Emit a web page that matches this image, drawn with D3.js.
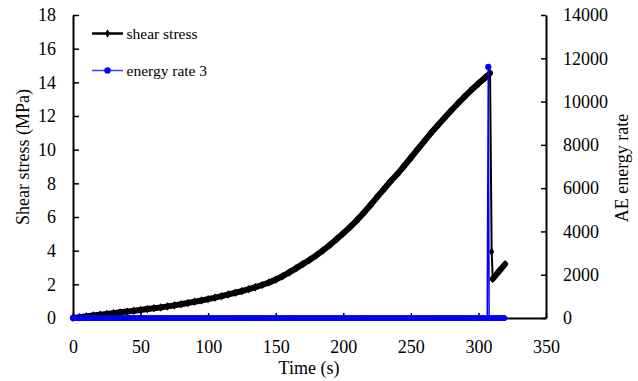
<!DOCTYPE html>
<html>
<head>
<meta charset="utf-8">
<script src="https://cdn.jsdelivr.net/npm/d3@7"></script>
<style>
  html, body { margin: 0; padding: 0; background: #fff; }
  svg { display: block; font-family: "Liberation Serif", "Times New Roman", serif; }
  svg text { font-family: "Liberation Serif", "Times New Roman", serif; }
</style>
</head>
<body>
<svg id="chart" width="638" height="381"></svg>
<script>
// shear stress (MPa) vs time (s)
const shearTime = [0, 5, 10, 15, 20, 25, 30, 35, 40, 45, 50, 55, 60, 65, 70, 75, 80, 85, 90, 95,
  100, 105, 110, 115, 120, 125, 130, 135, 140, 145, 150, 155, 160, 165, 170, 175, 180, 185, 190, 195,
  200, 205, 210, 215, 220, 225, 230, 235, 240, 245, 250, 255, 260, 265, 270, 275, 280, 285, 290, 295,
  300, 305, 308.6, 309.8, 310.6, 315, 319.7];
const shearStress = [0, 0.05, 0.1, 0.15, 0.2, 0.24, 0.29, 0.34, 0.38, 0.43, 0.48, 0.53, 0.58, 0.63, 0.69, 0.75, 0.82, 0.89, 0.97, 1.04,
  1.12, 1.21, 1.3, 1.4, 1.5, 1.6, 1.71, 1.83, 1.96, 2.11, 2.28, 2.48, 2.71, 2.95, 3.2, 3.45, 3.72, 4.02, 4.33, 4.68,
  5.03, 5.4, 5.8, 6.24, 6.7, 7.18, 7.65, 8.12, 8.55, 9.03, 9.52, 10.02, 10.51, 11.0, 11.45, 11.9, 12.34, 12.76, 13.16, 13.56,
  13.93, 14.28, 14.55, 3.94, 2.32, 2.75, 3.2];

// AE energy rate vs time (s)
const aeTime = [0, 2, 4, 6, 8, 10, 12, 14, 16, 18, 20, 22, 24, 26, 28, 30, 32, 34, 36, 38,
  40, 42, 44, 46, 48, 50, 52, 54, 56, 58, 60, 62, 64, 66, 68, 70, 72, 74, 76, 78,
  80, 82, 84, 86, 88, 90, 92, 94, 96, 98, 100, 102, 104, 106, 108, 110, 112, 114, 116, 118,
  120, 122, 124, 126, 128, 130, 132, 134, 136, 138, 140, 142, 144, 146, 148, 150, 152, 154, 156, 158,
  160, 162, 164, 166, 168, 170, 172, 174, 176, 178, 180, 182, 184, 186, 188, 190, 192, 194, 196, 198,
  200, 202, 204, 206, 208, 210, 212, 214, 216, 218, 220, 222, 224, 226, 228, 230, 232, 234, 236, 238,
  240, 242, 244, 246, 248, 250, 252, 254, 256, 258, 260, 262, 264, 266, 268, 270, 272, 274, 276, 278,
  280, 282, 284, 286, 288, 290, 292, 294, 296, 298, 300, 302, 304,
  306.5, 307.3, 307.9, 310, 312, 314, 316, 318, 319];
const aeRate = [0, 0, 0, 0, 0, 0, 0, 0, 0, 0, 0, 0, 0, 0, 0, 0, 0, 0, 0, 0,
  0, 0, 0, 0, 0, 0, 0, 0, 0, 0, 0, 0, 0, 0, 0, 0, 0, 0, 0, 0,
  0, 0, 0, 0, 0, 0, 0, 0, 0, 0, 0, 0, 0, 0, 0, 0, 0, 0, 0, 0,
  0, 0, 0, 0, 0, 0, 0, 0, 0, 0, 0, 0, 0, 0, 0, 0, 0, 0, 0, 0,
  0, 0, 0, 0, 0, 0, 0, 0, 0, 0, 0, 0, 0, 0, 0, 0, 0, 0, 0, 0,
  0, 0, 0, 0, 0, 0, 0, 0, 0, 0, 0, 0, 0, 0, 0, 0, 0, 0, 0, 0,
  0, 0, 0, 0, 0, 0, 0, 0, 0, 0, 0, 0, 0, 0, 0, 0, 0, 0, 0, 0,
  0, 0, 0, 0, 0, 0, 0, 0, 0, 0, 0, 0, 0,
  0, 11600, 0, 0, 0, 0, 0, 0, 0];

const xTicks = [0, 50, 100, 150, 200, 250, 300, 350];
const yLeftTicks = [0, 2, 4, 6, 8, 10, 12, 14, 16, 18];
const yRightTicks = [0, 2000, 4000, 6000, 8000, 10000, 12000, 14000];
const seriesNames = ['shear stress', 'energy rate 3'];

const FONT = '"Liberation Serif", "Times New Roman", serif';
const svg = d3.select('#chart');
const plot = { left: 73, right: 546, top: 15, bottom: 318 };

const x = d3.scaleLinear().domain([0, 350]).range([plot.left, plot.right]);
const yL = d3.scaleLinear().domain([0, 18]).range([plot.bottom, plot.top]);
const yR = d3.scaleLinear().domain([0, 14000]).range([plot.bottom, plot.top]);

function styleAxis(g) {
  g.attr('font-family', FONT).attr('font-size', 18);
  g.select('.domain').attr('stroke', '#000').attr('stroke-width', 2);
  g.selectAll('.tick line').attr('stroke', '#000').attr('stroke-width', 1.5);
  g.selectAll('.tick text').attr('fill', '#000');
}

// axes (ticks point inward)
svg.append('g')
  .attr('transform', `translate(0,${plot.bottom})`)
  .call(d3.axisBottom(x).tickValues(xTicks).tickFormat(d3.format('d'))
    .tickSizeInner(-5).tickSizeOuter(0).tickPadding(22))
  .call(styleAxis);

svg.append('g')
  .attr('transform', `translate(${plot.left},0)`)
  .call(d3.axisLeft(yL).tickValues(yLeftTicks).tickFormat(d3.format('d'))
    .tickSizeInner(-6).tickSizeOuter(0).tickPadding(17))
  .call(styleAxis);

svg.append('g')
  .attr('transform', `translate(${plot.right},0)`)
  .call(d3.axisRight(yR).tickValues(yRightTicks).tickFormat(d3.format('d'))
    .tickSizeInner(-5).tickSizeOuter(0).tickPadding(17))
  .call(g => g.selectAll('.tick text').attr('text-anchor', 'start'))
  .call(styleAxis);

// axis titles
svg.append('text').attr('x', 309).attr('y', 374).attr('text-anchor', 'middle')
  .attr('font-size', 18).text('Time (s)');
svg.append('text').attr('transform', 'translate(28.5,157) rotate(-90)').attr('text-anchor', 'middle')
  .attr('font-size', 18).text('Shear stress (MPa)');
svg.append('text').attr('transform', 'translate(628,168) rotate(-90)').attr('text-anchor', 'middle')
  .attr('font-size', 18).text('AE energy rate');

// shear stress series
const shear = shearTime.map((t, i) => ({ t, v: shearStress[i] }));
const lineL = d3.line().x(d => x(d.t)).y(d => yL(d.v));

// dense markers make the curve look thick where samples are close together
const thickSegs = [];
for (let i = 1; i < shear.length; i++) {
  if (shear[i].t - shear[i - 1].t >= 2) thickSegs.push([shear[i - 1], shear[i]]);
}
svg.append('g').selectAll('path').data(thickSegs).join('path')
  .attr('d', lineL)
  .attr('fill', 'none').attr('stroke', '#000').attr('stroke-width', 6)
  .attr('stroke-linecap', 'round');

svg.append('path').datum(shear)
  .attr('d', lineL)
  .attr('fill', 'none').attr('stroke', '#000').attr('stroke-width', 2);

const diamond = d3.symbol().type(d3.symbolDiamond).size(22);
svg.append('g').selectAll('path').data(shear).join('path')
  .attr('transform', d => `translate(${x(d.t)},${yL(d.v)})`)
  .attr('d', diamond).attr('fill', '#000');

// AE energy rate series
const ae = aeTime.map((t, i) => ({ t, v: aeRate[i] }));
svg.append('path').datum(ae)
  .attr('d', d3.line().x(d => x(d.t)).y(d => yR(d.v)))
  .attr('fill', 'none').attr('stroke', '#0000ff').attr('stroke-width', 1.5);
svg.append('g').selectAll('circle').data(ae).join('circle')
  .attr('cx', d => x(d.t)).attr('cy', d => yR(d.v)).attr('r', 3.1)
  .attr('fill', '#0000ff');

// legend
const legend = svg.append('g');
legend.append('line').attr('x1', 92).attr('x2', 123).attr('y1', 33.5).attr('y2', 33.5)
  .attr('stroke', '#000').attr('stroke-width', 2.5);
legend.append('path').attr('transform', 'translate(107.5,33.5)').attr('d', diamond).attr('fill', '#000');
legend.append('text').attr('x', 126.5).attr('y', 38.5).attr('font-size', 15.5).text(seriesNames[0]);

legend.append('line').attr('x1', 92).attr('x2', 123).attr('y1', 70.5).attr('y2', 70.5)
  .attr('stroke', '#3b3bff').attr('stroke-width', 1.5);
legend.append('circle').attr('cx', 107.5).attr('cy', 70.5).attr('r', 3.2).attr('fill', '#0000ff');
legend.append('text').attr('x', 126.5).attr('y', 75.5).attr('font-size', 15.5).text(seriesNames[1]);
</script>
</body>
</html>
